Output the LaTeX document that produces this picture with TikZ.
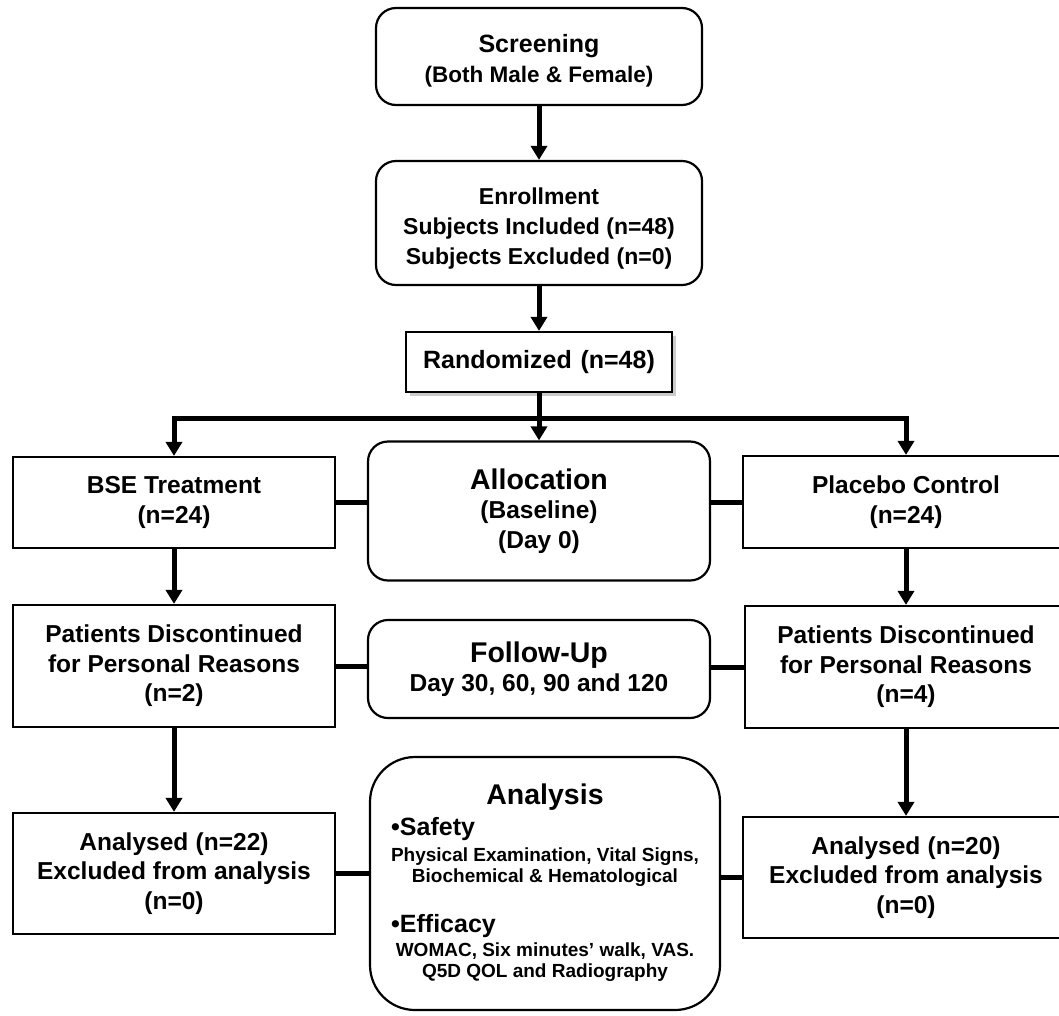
\documentclass[tikz,border=0pt]{standalone}
\usepackage{fontspec}
\setmainfont{Liberation Sans}
\usetikzlibrary{arrows.meta,shadows}
\tikzset{
  box/.style={draw=black, line width=2.2pt, fill=white, inner sep=0pt, align=center,
    font=\bfseries\fontsize{24.5}{29.5}\selectfont},
  rbox/.style={box, rounded corners=20pt},
  txt/.style={inner sep=0pt, align=center},
  conn/.style={line width=5pt, line join=miter},
  arr/.style={conn, -{Triangle[width=16pt,length=14pt]}},
}
\begin{document}
\begin{tikzpicture}[x=1pt,y=-1pt]
\clip (0,0) rectangle (1059,1015);
\fill[white] (0,0) rectangle (1059,1015);

% centre column
\node[rbox, minimum width=326pt, minimum height=97pt,
  label={[txt, name=scrt, yshift=-4pt, font=\bfseries\fontsize{25}{30}\selectfont]center:{Screening\\{\fontsize{22.5}{30}\selectfont (Both Male \& Female)}}}] (scr) at (539,56.5) {};
\node[rbox, minimum width=326pt, minimum height=124pt,
  label={[txt, name=enrt, yshift=-6pt, font=\bfseries\fontsize{23}{30}\selectfont]center:{Enrollment\\Subjects Included (n=48)\\Subjects Excluded (n=0)}}] (enr) at (539,223) {};
\node[box, minimum width=266pt, minimum height=60pt, font=\bfseries\fontsize{25}{30}\selectfont,
  drop shadow={shadow xshift=4pt, shadow yshift=-4pt, fill=black!40}] (rand) at (539,362)
  {Randomized\hspace{0.35em}(n=48)};
\node[rbox, minimum width=342pt, minimum height=139pt] (alloc) at (539,511)
  {{\fontsize{28.5}{31}\selectfont Allocation}\\(Baseline)\\(Day 0)};
\node[rbox, minimum width=342pt, minimum height=98pt] (fu) at (539,669)
  {{\fontsize{28.5}{31}\selectfont Follow-Up}\\Day 30, 60, 90 and 120};
\node[box, rounded corners=45pt, minimum width=350pt, minimum height=253pt] (ana) at (545,883.5) {};

% left column
\node[box, minimum width=322pt, minimum height=91pt] (bse) at (174,502.5)
  {BSE Treatment\\(n=24)};
\node[box, minimum width=322pt, minimum height=122pt] (patl) at (174,666)
  {Patients Discontinued\\for Personal Reasons\\(n=2)};
\node[box, minimum width=322pt, minimum height=121pt] (anl) at (174,873.5)
  {Analysed\hspace{0.3em}(n=22)\\Excluded from analysis\\(n=0)};

% right column
\node[box, minimum width=326pt, minimum height=92pt] (plc) at (906,502)
  {Placebo Control\\(n=24)};
\node[box, minimum width=322pt, minimum height=122pt] (patr) at (906,667)
  {Patients Discontinued\\for Personal Reasons\\(n=4)};
\node[box, minimum width=326pt, minimum height=121pt] (anr) at (906,877.5)
  {Analysed\hspace{0.3em}(n=20)\\Excluded from analysis\\(n=0)};

% analysis texts
\node[txt, font=\bfseries\fontsize{28.5}{30}\selectfont] (anat) at (545,797) {Analysis};
\node[txt, anchor=west, font=\bfseries\fontsize{25}{28}\selectfont] (saf) at (391,829) {•Safety};
\node[txt, font=\bfseries\fontsize{19}{20.5}\selectfont] (safd) at (545,867)
  {Physical Examination, Vital Signs,\\Biochemical \& Hematological};
\node[txt, anchor=west, font=\bfseries\fontsize{25}{28}\selectfont] (eff) at (391,926) {•Efficacy};
\node[txt, font=\bfseries\fontsize{19}{20.5}\selectfont] (effd) at (545,962)
  {WOMAC, Six minutes’ walk, VAS.\\Q5D QOL and Radiography};

% connectors
\coordinate (hl) at (539,418);
\draw[arr] (scr.south) -- (enr.north);
\draw[arr] (enr.south) -- (rand.north);
\draw[arr] (rand.south) -- (alloc.north);
\draw[conn] (bse.north |- hl) -- (plc.north |- hl);
\draw[arr] (hl) -| (bse.north);
\draw[arr] (hl) -| (plc.north);
\draw[conn] (bse.east) -- (bse.east -| alloc.west);
\draw[conn] (plc.west) -- (plc.west -| alloc.east);
\draw[arr] (bse.south) -- (patl.north);
\draw[arr] (plc.south) -- (patr.north);
\draw[conn] (patl.east) -- (patl.east -| fu.west);
\draw[conn] (patr.west) -- (patr.west -| fu.east);
\draw[arr] (patl.south) -- (anl.north);
\draw[arr] (patr.south) -- (anr.north);
\draw[conn] (anl.east) -- (anl.east -| ana.west);
\draw[conn] (anr.west) -- (anr.west -| ana.east);
\end{tikzpicture}
\end{document}
